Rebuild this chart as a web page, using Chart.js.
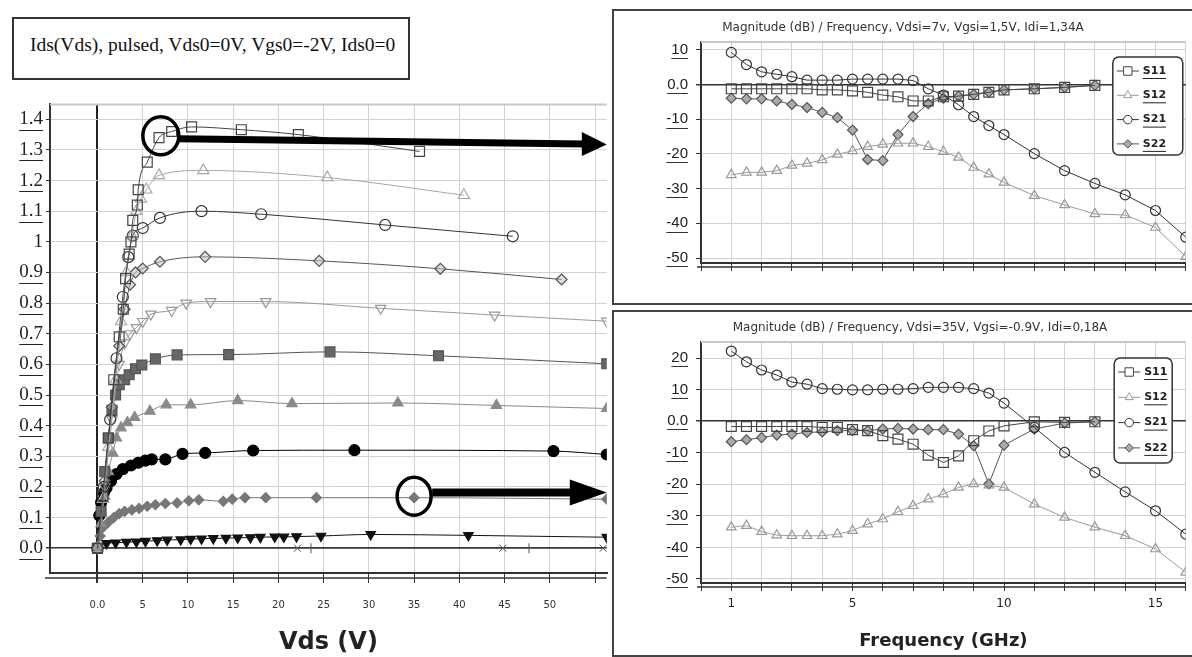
<!DOCTYPE html>
<html>
<head>
<meta charset="utf-8">
<script src="https://cdn.jsdelivr.net/npm/chart.js@4.4.1/dist/chart.umd.min.js"></script>
<style>
  body { margin: 0; background: #fff; width: 1192px; height: 657px; overflow: hidden; position: relative; }
  .box { position: absolute; }
  #titleBox { left: 12px; top: 17px; width: 394px; height: 59px; border: 2px solid #333;
    font-family: 'Liberation Serif', serif; font-size: 19.5px; color: #111; }
  #titleBox span { position: absolute; left: 16px; top: 15px; white-space: nowrap; }
  #ivWrap { left: 0; top: 90px; }
  #s1Wrap { left: 612px; top: 9px; width: 600px; height: 292px; border: 2px solid #444; }
  #s2Wrap { left: 612px; top: 310px; width: 600px; height: 343px; border: 2px solid #444; }
  canvas { display: block; }
</style>
</head>
<body>
<div class="box" id="titleBox"><span>Ids(Vds), pulsed, Vds0=0V, Vgs0=-2V, Ids0=0</span></div>
<div class="box" id="ivWrap"><canvas id="iv" width="615" height="567"></canvas></div>
<div class="box" id="s1Wrap"><canvas id="s1" width="580" height="292"></canvas></div>
<div class="box" id="s2Wrap"><canvas id="s2" width="580" height="343"></canvas></div>
<script>
// ---- pulsed I-V network: Vds (V) and Ids (A), one pair per Vgs step ----
const vdsC1 = [0, 0.6, 1.2, 1.8, 2.4, 2.85, 3.1, 3.5, 3.7, 3.9, 4.4, 4.5, 5.5, 6.8, 8.2, 10.4, 15.9, 22.2, 35.6];
const idsC1 = [0, 0.17, 0.36, 0.55, 0.69, 0.78, 0.88, 0.96, 1.0, 1.07, 1.12, 1.17, 1.26, 1.34, 1.36, 1.375, 1.366, 1.35, 1.295];
const vdsC2 = [0, 0.6, 1.2, 2.0, 2.6, 3.2, 3.8, 4.3, 4.8, 5.4, 6.8, 11.7, 25.4, 40.5];
const idsC2 = [0, 0.16, 0.33, 0.55, 0.74, 0.9, 1.02, 1.1, 1.14, 1.17, 1.217, 1.233, 1.21, 1.152];
const vdsC3 = [0, 0.7, 1.4, 2.1, 2.8, 3.4, 3.9, 5.0, 6.9, 11.5, 18.1, 31.8, 45.9];
const idsC3 = [0, 0.2, 0.42, 0.62, 0.82, 0.95, 1.02, 1.045, 1.078, 1.1, 1.09, 1.055, 1.018];
const vdsC4 = [0, 0.8, 1.6, 2.4, 3.0, 3.6, 4.2, 5.0, 6.9, 11.9, 24.5, 37.9, 51.3];
const idsC4 = [0, 0.22, 0.46, 0.66, 0.78, 0.86, 0.9, 0.913, 0.935, 0.951, 0.938, 0.912, 0.877];
const vdsC5 = [0, 0.8, 1.6, 2.4, 3.0, 3.6, 4.3, 5.0, 5.9, 8.2, 9.8, 12.5, 18.6, 31.3, 43.9, 56.3];
const idsC5 = [0, 0.2, 0.42, 0.6, 0.67, 0.7, 0.72, 0.74, 0.764, 0.776, 0.8, 0.805, 0.805, 0.783, 0.761, 0.741];
const vdsC6 = [0, 0.4, 0.8, 1.2, 1.6, 2.0, 2.4, 3.0, 3.5, 4.2, 4.9, 6.4, 8.8, 14.5, 25.7, 37.7, 56.3];
const idsC6 = [0, 0.12, 0.25, 0.36, 0.45, 0.5, 0.534, 0.55, 0.566, 0.586, 0.598, 0.618, 0.631, 0.632, 0.641, 0.628, 0.602];
const vdsC7 = [0, 0.4, 0.8, 1.2, 1.7, 2.1, 2.6, 3.3, 4.1, 5.8, 7.6, 10.3, 15.5, 21.5, 33.2, 44.1, 56.3];
const idsC7 = [0, 0.08, 0.17, 0.25, 0.31, 0.36, 0.393, 0.41, 0.427, 0.447, 0.468, 0.468, 0.482, 0.472, 0.474, 0.466, 0.456];
const vdsC8 = [0, 0.2, 0.4, 0.7, 1.0, 1.5, 2.1, 2.8, 3.7, 4.5, 5.3, 6.0, 7.5, 9.4, 11.9, 17.2, 28.4, 50.4, 56.3];
const idsC8 = [0, 0.107, 0.15, 0.18, 0.197, 0.22, 0.242, 0.258, 0.27, 0.279, 0.286, 0.29, 0.29, 0.308, 0.311, 0.319, 0.32, 0.317, 0.306];
const vdsC9 = [0, 0.3, 0.6, 1.2, 1.8, 2.4, 3.0, 3.8, 4.6, 5.5, 6.4, 7.5, 8.8, 10.1, 11.2, 13.9, 14.9, 16.3, 18.6, 24.2, 35.0, 56.3];
const idsC9 = [0, 0.04, 0.068, 0.085, 0.1, 0.113, 0.12, 0.125, 0.13, 0.137, 0.142, 0.146, 0.148, 0.155, 0.158, 0.153, 0.16, 0.165, 0.165, 0.165, 0.165, 0.16];
const vdsC10 = [0, 1.0, 2.0, 3.2, 4.3, 5.3, 6.6, 7.7, 9.2, 10.3, 11.5, 12.8, 14.2, 15.5, 16.9, 18.0, 19.6, 20.6, 22.0, 24.7, 30.2, 41.0, 56.3];
const idsC10 = [0, 0.016, 0.018, 0.02, 0.021, 0.023, 0.025, 0.027, 0.028, 0.03, 0.031, 0.032, 0.033, 0.034, 0.035, 0.036, 0.037, 0.037, 0.038, 0.04, 0.045, 0.042, 0.036];
const vdsOff = [0, 22.1, 23.6, 44.8, 47.7, 55.9];
const idsOff = [0, 0, 0, 0, 0, 0];

const vdsTicks = [0, 5, 10, 15, 20, 25, 30, 35, 40, 45, 50, 55];
const idsTicks = [0, 0.1, 0.2, 0.3, 0.4, 0.5, 0.6, 0.7, 0.8, 0.9, 1, 1.1, 1.2, 1.3, 1.4];

// ---- S-parameters, magnitude in dB vs frequency (GHz) ----
const freqs = [1, 1.5, 2, 2.5, 3, 3.5, 4, 4.5, 5, 5.5, 6, 6.5, 7, 7.5, 8, 8.5, 9, 9.5, 10, 11, 12, 13, 14, 15, 16];
// bias point 1: Vdsi=7V, Idi=1.34A
const s11On = [-1.2, -1.2, -1.2, -1.2, -1.2, -1.2, -1.5, -1.5, -1.8, -2.2, -3.0, -3.5, -4.7, -4.7, -3.5, -3.3, -2.8, -2.2, -1.5, -1.2, -0.8, -0.2, null, null, null];
const s12On = [-26, -25.3, -25.3, -24.8, -23.3, -22.7, -21.7, -20.1, -19.1, -17.9, -17.2, -16.9, -16.9, -17.9, -19.3, -21, -23.9, -25.8, -28.2, -32, -34.7, -37.3, -37.6, -41.2, -49.6];
const s21On = [9.3, 5.8, 3.7, 3.0, 2.3, 1.3, 1.3, 1.3, 1.6, 1.6, 1.6, 1.6, 1.2, -1.2, -3.0, -5.8, -9.2, -11.8, -14.4, -19.9, -24.8, -28.5, -31.8, -36.3, -44];
const s22On = [-3.9, -4.1, -4.1, -4.7, -5.7, -6.6, -8.0, -9.5, -13.1, -21.6, -21.9, -14.4, -9.2, -5.5, -3.9, -3.3, -2.8, -2.2, -1.5, -1.2, -0.8, -0.2, null, null, null];
// bias point 2: Vdsi=35V, Idi=0.18A
const s11Off = [-1.7, -1.7, -1.7, -1.7, -1.7, -1.7, -2.0, -2.0, -2.7, -3.0, -4.6, -5.7, -7.3, -10.8, -13.1, -11.0, -6.2, -3.1, -1.5, -0.2, -0.4, -0.2, null, null, null];
const s12Off = [-33.6, -33.1, -35, -36.1, -36.3, -36.3, -36.3, -35.8, -34.7, -32.6, -31, -28.7, -26.8, -24.7, -23.1, -21, -19.9, -20.3, -21, -26.3, -30.5, -33.6, -36.3, -40.5, -47.9];
const s21Off = [22.2, 18.8, 16.2, 14.6, 12.4, 11.7, 10.3, 10.1, 9.9, 9.9, 10.1, 10.1, 10.3, 10.7, 10.7, 10.7, 10.3, 8.9, 5.7, -2.0, -9.9, -16.2, -22.4, -28.4, -35.8];
const s22Off = [-6.5, -5.9, -5.2, -4.4, -4.1, -3.6, -3.4, -3.0, -3.0, -3.0, -2.5, -2.3, -2.5, -2.7, -2.7, -4.1, -7.8, -19.9, -7.6, -2.5, -0.6, -0.2, null, null, null];
const freqLabels = [1, 5, 10, 15];
const dbTicksOn = [-50, -40, -30, -20, -10, 0, 10];
const dbTicksOff = [-50, -40, -30, -20, -10, 0, 10, 20];

function pts(xs, ys) {
  return xs.map((x, i) => ({ x: x, y: ys[i] }));
}

// underline the tick labels of the listed axes
const underline = {
  id: 'underline',
  afterDraw(chart, args, opts) {
    const ctx = chart.ctx;
    ctx.save();
    opts.axes.forEach(id => {
      const scale = chart.scales[id];
      scale.getLabelItems().forEach(item => {
        if (!item.label || opts.skip.includes(item.label)) return;
        ctx.font = item.font.string;
        const w = ctx.measureText(item.label).width;
        const [x, y] = item.options.translation;
        const uy = Math.round(y + item.font.size * 0.55) + 0.5;
        ctx.strokeStyle = opts.color;
        ctx.lineWidth = 1;
        ctx.beginPath();
        ctx.moveTo(x - w, uy);
        ctx.lineTo(x, uy);
        ctx.stroke();
      });
    });
    ctx.restore();
  }
};

// light top edge and the detached axis line under the plot
const frame = {
  id: 'frame',
  beforeDatasetsDraw(chart, args, opts) {
    const { ctx, chartArea: a } = chart;
    ctx.save();
    ctx.strokeStyle = '#c8c8c8';
    ctx.lineWidth = 2;
    ctx.beginPath();
    ctx.moveTo(a.left, a.top);
    ctx.lineTo(a.right, a.top);
    ctx.stroke();
    ctx.strokeStyle = '#333';
    ctx.lineWidth = 1.5;
    ctx.beginPath();
    ctx.moveTo(a.left - opts.gap, a.bottom + opts.gap);
    ctx.lineTo(a.right, a.bottom + opts.gap);
    ctx.stroke();
    ctx.restore();
  }
};

// legend drawn in a rounded box inside the plot
const boxLegend = {
  id: 'boxLegend',
  afterDraw(chart, args, o) {
    const { ctx, chartArea: a } = chart;
    const x = a.right - o.right - o.width, y = a.top + o.top;
    ctx.save();
    ctx.fillStyle = '#fff';
    ctx.strokeStyle = '#333';
    ctx.lineWidth = 1.5;
    ctx.beginPath();
    ctx.roundRect(x, y, o.width, o.height, 6);
    ctx.fill();
    ctx.stroke();
    chart.data.datasets.forEach((ds, i) => {
      const cy = y + o.first + i * o.row;
      ctx.strokeStyle = ds.borderColor;
      ctx.lineWidth = 1;
      ctx.beginPath();
      ctx.moveTo(x + 4, cy);
      ctx.lineTo(x + 26, cy);
      ctx.stroke();
      ctx.fillStyle = ds.legendFill;
      Chart.helpers.drawPoint(ctx, { pointStyle: ds.pointStyle, rotation: 0, radius: ds.pointRadius * 0.85, borderWidth: 1 }, x + 15, cy);
      ctx.fillStyle = '#222';
      ctx.font = 'bold 11px "DejaVu Sans"';
      ctx.textBaseline = 'middle';
      ctx.fillText(ds.label, x + 30, cy);
      const w = ctx.measureText(ds.label).width;
      ctx.strokeStyle = '#222';
      ctx.beginPath();
      ctx.moveTo(x + 30, cy + 7.5);
      ctx.lineTo(x + 30 + w, cy + 7.5);
      ctx.stroke();
    });
    ctx.restore();
  }
};

// the two highlighted bias points and their arrows
const marks = {
  id: 'marks',
  afterDatasetsDraw(chart, args, o) {
    const { ctx, chartArea: a, scales: { x, y } } = chart;
    ctx.save();
    ctx.strokeStyle = '#000';
    ctx.fillStyle = '#000';
    o.circles.forEach(c => {
      ctx.lineWidth = 3.5;
      ctx.beginPath();
      ctx.ellipse(x.getPixelForValue(c.x), y.getPixelForValue(c.y), c.rx, c.ry, 0, 0, Math.PI * 2);
      ctx.stroke();
    });
    o.arrows.forEach(r => {
      const x0 = x.getPixelForValue(r.x0), y0 = y.getPixelForValue(r.y0);
      const x1 = a.right, y1 = y.getPixelForValue(r.y1);
      const hx = x1 - r.head;
      const hy = y0 + (y1 - y0) * (hx - x0) / (x1 - x0);
      ctx.lineWidth = r.w;
      ctx.beginPath();
      ctx.moveTo(x0, y0);
      ctx.lineTo(hx + 2, hy);
      ctx.stroke();
      ctx.beginPath();
      ctx.moveTo(hx, hy - r.half);
      ctx.lineTo(x1, y1);
      ctx.lineTo(hx, hy + r.half);
      ctx.closePath();
      ctx.fill();
    });
    ctx.restore();
  }
};

function ivSet(xs, ys, color, fill, style, radius, rotation) {
  return {
    data: pts(xs, ys),
    borderColor: color,
    backgroundColor: fill,
    borderWidth: 1,
    pointStyle: style,
    pointRadius: radius,
    pointRotation: rotation || 0,
    pointBorderWidth: 1.2,
    cubicInterpolationMode: 'monotone'
  };
}

const ivDatasets = [
  ivSet(vdsC1, idsC1, '#444', 'rgba(255,255,255,0)', 'rect', 7),
  ivSet(vdsC2, idsC2, '#a8a8a8', 'rgba(255,255,255,0)', 'triangle', 6.5),
  ivSet(vdsC3, idsC3, '#333', 'rgba(255,255,255,0)', 'circle', 5.5),
  ivSet(vdsC4, idsC4, '#555', 'rgba(190,190,190,0.5)', 'rectRot', 5.5),
  ivSet(vdsC5, idsC5, '#999', 'rgba(255,255,255,0)', 'triangle', 6, 180),
  ivSet(vdsC6, idsC6, '#555', '#666', 'rect', 7),
  ivSet(vdsC7, idsC7, '#8a8a8a', '#8a8a8a', 'triangle', 6),
  ivSet(vdsC8, idsC8, '#000', '#000', 'circle', 5.5),
  ivSet(vdsC9, idsC9, '#777', '#777', 'rectRot', 5),
  ivSet(vdsC10, idsC10, '#111', '#111', 'triangle', 5.5, 180),
  {
    data: pts(vdsOff, idsOff),
    borderColor: '#555',
    borderWidth: 1,
    pointStyle: ctx => (ctx.dataIndex === 2 || ctx.dataIndex === 4) ? 'line' : 'crossRot',
    pointRotation: ctx => (ctx.dataIndex === 2 || ctx.dataIndex === 4) ? 90 : 0,
    pointRadius: ctx => ctx.dataIndex === 0 ? 0 : 5,
    pointBorderWidth: 1
  }
];

new Chart(document.getElementById('iv'), {
  type: 'line',
  data: { datasets: ivDatasets },
  plugins: [frame, underline, marks],
  options: {
    responsive: false,
    animation: false,
    layout: { padding: { top: 10, right: 2, left: 0, bottom: 0 } },
    plugins: {
      legend: { display: false },
      tooltip: { enabled: false },
      frame: { gap: 5 },
      underline: { axes: ['y'], skip: ['1'], color: '#222' },
      marks: {
        circles: [{ x: 7.0, y: 1.346, rx: 18, ry: 19 }, { x: 35.0, y: 0.17, rx: 17, ry: 19 }],
        arrows: [
          { x0: 9.0, y0: 1.336, y1: 1.318, w: 7, head: 25, half: 12 },
          { x0: 37.0, y0: 0.182, y1: 0.182, w: 8, head: 37, half: 13 }
        ]
      }
    },
    scales: {
      x: {
        type: 'linear',
        min: -5.25,
        max: 56.3,
        afterFit: s => { s.height = 84; },
        afterBuildTicks: s => { s.ticks = vdsTicks.map(v => ({ value: v })); },
        ticks: {
          padding: 16,
          color: '#333',
          font: { family: 'DejaVu Sans', size: 10 },
          callback: v => v === 0 ? '0.0' : (v === 55 ? '' : String(v))
        },
        grid: {
          color: c => c.tick && c.tick.value === 0 ? '#222' : '#d2d2d2',
          lineWidth: c => c.tick && c.tick.value === 0 ? 2 : 1,
          tickColor: '#333',
          tickLength: 10
        },
        border: { color: '#333', width: 2 },
        title: {
          display: true,
          text: 'Vds (V)',
          color: '#222',
          font: { family: 'DejaVu Sans', size: 24, weight: 'bold' },
          padding: { top: 0, bottom: 0 }
        }
      },
      y: {
        min: -0.0808,
        max: 1.4485,
        afterFit: s => { s.width = 50; },
        afterBuildTicks: s => { s.ticks = idsTicks.map(v => ({ value: v })); },
        ticks: {
          padding: 3,
          color: '#222',
          font: { family: 'Liberation Serif', size: 19 },
          callback: v => v === 1 ? '1' : v.toFixed(1)
        },
        grid: {
          color: c => c.tick && c.tick.value === 0 ? '#333' : '#d2d2d2',
          lineWidth: c => c.tick && c.tick.value === 0 ? 1.5 : 1,
          tickColor: '#333',
          tickLength: 4
        },
        border: { color: '#333', width: 2 }
      }
    }
  }
});

function sSet(label, ys, color, fill, style, radius) {
  return {
    label: label,
    data: pts(freqs, ys),
    borderColor: color,
    backgroundColor: fill,
    legendFill: fill === 'rgba(255,255,255,0)' ? '#fff' : fill,
    borderWidth: 1,
    pointStyle: style,
    pointRadius: radius,
    pointBorderWidth: 1.2,
    spanGaps: false
  };
}

function sOptions(title, yMin, yMax, yTicks, xHeight, padLeft, axisWidth, titlePad, legend, showLabels) {
  return {
    responsive: false,
    animation: false,
    layout: { padding: { top: 0, right: 2, left: padLeft, bottom: 0 } },
    plugins: {
      legend: { display: false },
      tooltip: { enabled: false },
      title: {
        display: true,
        text: title,
        color: '#333',
        font: { family: 'DejaVu Sans', size: 12, weight: 'normal' },
        padding: titlePad
      },
      frame: { gap: 4 },
      underline: { axes: ['y'], skip: [], color: '#333' },
      boxLegend: legend
    },
    scales: {
      x: {
        type: 'linear',
        min: 0,
        max: 16,
        afterFit: s => { s.height = xHeight; },
        ticks: {
          stepSize: 1,
          autoSkip: false,
          maxRotation: 0,
          padding: 6,
          color: '#222',
          font: { family: 'DejaVu Sans', size: 12 },
          callback: v => showLabels && freqLabels.includes(v) ? String(v) : ''
        },
        grid: { color: '#d2d2d2', tickColor: '#333', tickLength: 8 },
        border: { color: '#333', width: 2 },
        title: {
          display: showLabels,
          text: 'Frequency (GHz)',
          color: '#222',
          font: { family: 'DejaVu Sans', size: 18, weight: 'bold' },
          padding: { top: 0, bottom: 3 }
        }
      },
      y: {
        min: yMin,
        max: yMax,
        afterFit: s => { s.width = axisWidth; },
        afterBuildTicks: s => { s.ticks = yTicks.map(v => ({ value: v })); },
        ticks: {
          padding: 8,
          color: '#222',
          font: { family: 'Liberation Sans', size: 15 },
          callback: v => v === 0 ? '0.0' : String(v)
        },
        grid: {
          color: c => c.tick && c.tick.value === 0 ? '#333' : '#d2d2d2',
          lineWidth: c => c.tick && c.tick.value === 0 ? 1.5 : 1,
          tickColor: '#333',
          tickLength: 5
        },
        border: { color: '#333', width: 2 }
      }
    }
  };
}

new Chart(document.getElementById('s1'), {
  type: 'line',
  data: {
    datasets: [
      sSet('S11', s11On, '#444', 'rgba(255,255,255,0)', 'rect', 7),
      sSet('S12', s12On, '#9a9a9a', 'rgba(255,255,255,0)', 'triangle', 5.5),
      sSet('S21', s21On, '#333', 'rgba(255,255,255,0)', 'circle', 5),
      sSet('S22', s22On, '#555', '#aaa', 'rectRot', 5)
    ]
  },
  plugins: [frame, underline, boxLegend],
  options: sOptions('Magnitude (dB) / Frequency, Vdsi=7v, Vgsi=1,5V, Idi=1,34A', -51.44, 12.3, dbTicksOn, 40, 0, 87,
    { top: 9.8, bottom: 6.8 },
    { right: 3, top: 15, width: 70, height: 98, first: 14, row: 24.3 }, false)
});

new Chart(document.getElementById('s2'), {
  type: 'line',
  data: {
    datasets: [
      sSet('S11', s11Off, '#444', 'rgba(255,255,255,0)', 'rect', 7),
      sSet('S12', s12Off, '#9a9a9a', 'rgba(255,255,255,0)', 'triangle', 5.5),
      sSet('S21', s21Off, '#333', 'rgba(255,255,255,0)', 'circle', 5),
      sSet('S22', s22Off, '#555', '#aaa', 'rectRot', 5)
    ]
  },
  plugins: [frame, underline, boxLegend],
  options: sOptions('Magnitude (dB) / Frequency, Vdsi=35V, Vgsi=-0.9V, Idi=0,18A', -51.27, 25.07, dbTicksOff, 72, 34, 53,
    { top: 8.8, bottom: 6.8 },
    { right: 13.6, top: 16, width: 58, height: 105, first: 14, row: 25.3 }, true)
});
</script>
</body>
</html>
